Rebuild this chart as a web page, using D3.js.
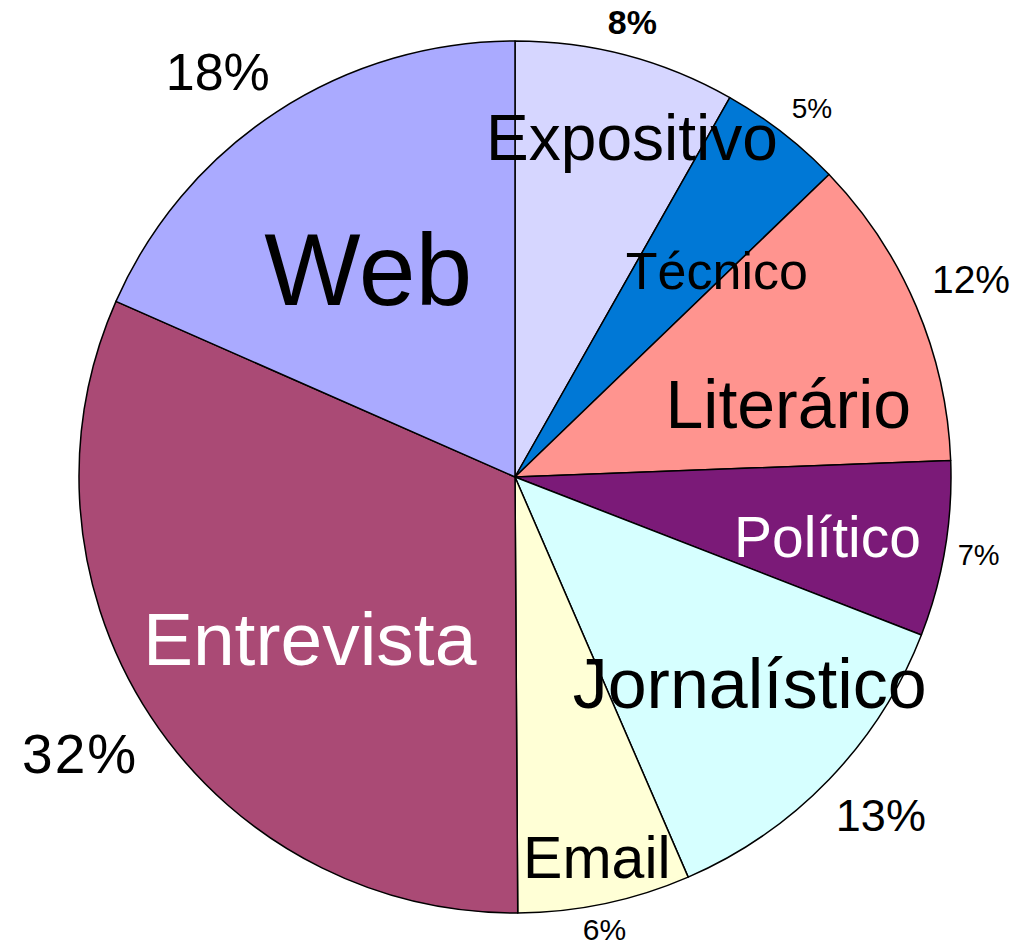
<!DOCTYPE html>
<html>
<head>
<meta charset="utf-8">
<script src="https://cdn.jsdelivr.net/npm/d3@7"></script>
<style>
  html, body { margin: 0; padding: 0; background: #fff; }
  text { font-family: "Liberation Sans", Arial, sans-serif; }
</style>
</head>
<body>
<div id="chart"></div>
<script>
// data, clockwise from 12 o'clock
const categories = ["Expositivo", "Técnico", "Literário", "Político", "Jornalístico", "Email", "Entrevista", "Web"];
const values = [8.2, 4.6, 11.6, 6.5, 12.6, 6.4, 31.7, 18.4];
const percentLabels = ["8%", "5%", "12%", "7%", "13%", "6%", "32%", "18%"];

// styling
const colors = ["#d6d6ff", "#0078d6", "#ff948f", "#7b1a78", "#d6ffff", "#ffffd6", "#aa4a75", "#aaaaff"];
const nameColors = ["#000", "#000", "#000", "#fff", "#000", "#000", "#fff", "#000"];
const nameSizes = [64, 52, 68, 57, 70, 59, 75, 102];
// label placement: angle nudge (deg) from slice middle, distance from centre
const nameLayout = [[4.2, 360], [6.5, 289], [8.0, 283], [1.2, 318], [-2.7, 312], [-0.3, 388], [-4.8, 261], [-2.0, 255]];
const pctSizes = [34, 28, 39, 29, 45, 30, 55, 52];
const pctWeights = ["bold", "normal", "normal", "normal", "normal", "normal", "normal", "normal"];
const pctSpacing = [0, 0, 0, 0, 0, 0, 2, 0];
const pctLayout = [[-0.3, 470], [1.0, 474], [-0.4, 497], [-0.1, 470], [-1.2, 498], [0.7, 461], [0.9, 515], [-3.1, 503]];

const width = 1018;
const height = 947;
const cx = 515;
const cy = 477;
const radius = 436;

const svg = d3.select("#chart").append("svg")
    .attr("width", width)
    .attr("height", height);

const g = svg.append("g")
    .attr("transform", `translate(${cx},${cy})`);

const pie = d3.pie().sort(null).value(d => d);
const arcs = pie(values);

const arc = d3.arc().innerRadius(0).outerRadius(radius);

g.selectAll("path.slice")
    .data(arcs)
    .join("path")
    .attr("class", "slice")
    .attr("d", arc)
    .attr("fill", (d, i) => colors[i])
    .attr("stroke", "#000")
    .attr("stroke-width", 1.5)
    .attr("stroke-linejoin", "round");

function polar(d, layout) {
    const a = (d.startAngle + d.endAngle) / 2 + layout[0] * Math.PI / 180;
    return [Math.sin(a) * layout[1], -Math.cos(a) * layout[1]];
}

// category names inside slices
g.selectAll("text.name")
    .data(arcs)
    .join("text")
    .attr("class", "name")
    .attr("transform", (d, i) => `translate(${polar(d, nameLayout[i])})`)
    .attr("text-anchor", "middle")
    .attr("dy", "0.36em")
    .attr("font-size", (d, i) => nameSizes[i])
    .attr("fill", (d, i) => nameColors[i])
    .text((d, i) => categories[i]);

// percentages outside
g.selectAll("text.pct")
    .data(arcs)
    .join("text")
    .attr("class", "pct")
    .attr("transform", (d, i) => `translate(${polar(d, pctLayout[i])})`)
    .attr("text-anchor", "middle")
    .attr("dy", "0.36em")
    .attr("font-size", (d, i) => pctSizes[i])
    .attr("font-weight", (d, i) => pctWeights[i])
    .attr("letter-spacing", (d, i) => pctSpacing[i])
    .attr("fill", "#000")
    .text((d, i) => percentLabels[i]);
</script>
</body>
</html>
